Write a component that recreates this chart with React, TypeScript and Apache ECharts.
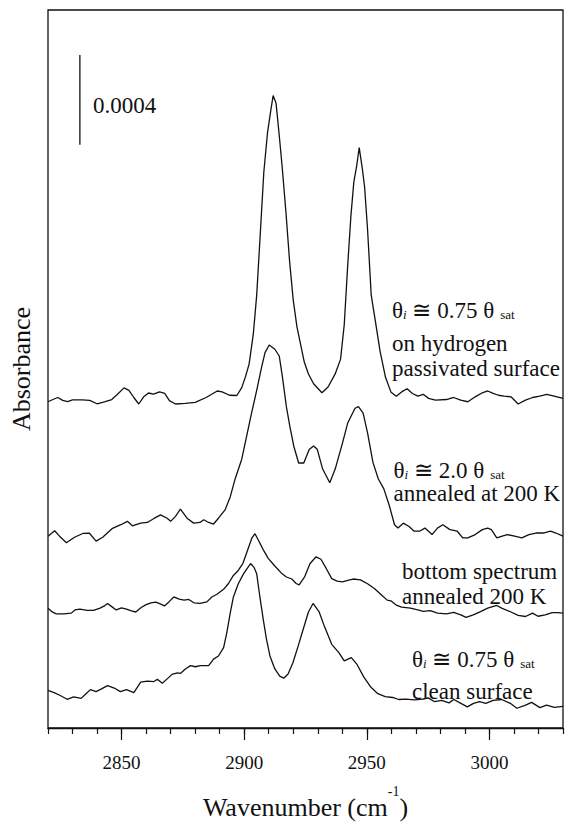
import React, { useEffect, useRef } from "react";
import * as echarts from "echarts";

// ---- Data (absorbance in units of 1e-4, stacked offsets included) ----
// Spectrum 1: θi ≅ 0.75 θsat on hydrogen passivated surface
const wn1 = [2820, 2822, 2824, 2826, 2828, 2830, 2834, 2837, 2840, 2843, 2846, 2848, 2851, 2853, 2855, 2857, 2859, 2861, 2863, 2865.5, 2867.6, 2869.5, 2872, 2876, 2880, 2884.5, 2889, 2891, 2894, 2897, 2899, 2900.5, 2902, 2903.7, 2905.1, 2906.5, 2908, 2909.5, 2910.8, 2911.8, 2913, 2914.2, 2915.5, 2917, 2918.5, 2920, 2921.5, 2923, 2924.5, 2926.2, 2928.3, 2931.7, 2934.2, 2937.1, 2939.3, 2940.8, 2942.2, 2943.5, 2944.7, 2945.9, 2946.9, 2948.1, 2949.1, 2950.3, 2951.8, 2953.2, 2955.4, 2957.6, 2959.8, 2962, 2964.2, 2966.4, 2968.6, 2970.8, 2973, 2975.2, 2978, 2982.5, 2985.4, 2988.3, 2991.2, 2994.2, 2997.1, 2999.3, 3001.5, 3003.7, 3006, 3008.8, 3011.7, 3014.7, 3017.6, 3020.5, 3023.4, 3026.4, 3030];
const abs1 = [14.54, 14.64, 14.73, 14.6, 14.55, 14.62, 14.62, 14.6, 14.45, 14.53, 14.64, 14.84, 15.16, 15.05, 14.73, 14.44, 14.76, 14.93, 14.88, 14.98, 14.91, 14.59, 14.44, 14.47, 14.51, 14.73, 15.02, 14.98, 14.83, 14.82, 15.17, 15.65, 16.22, 17.54, 19.29, 21.92, 24.77, 26.52, 27.49, 28.19, 27.84, 26.52, 24.99, 23.02, 20.82, 19.07, 17.89, 17.1, 16.31, 15.78, 15.34, 14.94, 15.2, 15.78, 16.44, 17.97, 20.6, 22.8, 24.33, 25.08, 25.87, 24.99, 24.11, 22.23, 19.29, 18.33, 16.8, 15.64, 14.98, 14.79, 14.98, 15.12, 14.91, 14.79, 14.87, 14.69, 14.61, 14.64, 14.73, 14.61, 14.54, 14.76, 14.94, 15.02, 14.91, 14.83, 14.79, 14.76, 14.44, 14.61, 14.73, 14.79, 14.87, 14.79, 14.69];

// Spectrum 2: θi ≅ 2.0 θsat annealed at 200 K
const wn2 = [2820, 2822.7, 2824.7, 2827.5, 2830.8, 2834.2, 2836.9, 2839.6, 2842.3, 2846.3, 2849.7, 2852.4, 2854.4, 2857.8, 2860.5, 2863.2, 2865.9, 2868.6, 2870, 2872, 2874, 2876.7, 2879.4, 2882, 2883.5, 2885.5, 2887.5, 2889.5, 2892.2, 2894.3, 2896.3, 2899, 2901, 2903, 2905.1, 2907.1, 2908.5, 2910.2, 2912.5, 2914.3, 2915.6, 2917.2, 2918.6, 2920.2, 2922.2, 2924.3, 2926.5, 2928.3, 2929.8, 2932, 2934.9, 2937.1, 2940.1, 2942.2, 2945.2, 2946.6, 2948.5, 2950.3, 2952.5, 2954.7, 2956.9, 2959.1, 2961.3, 2962.7, 2964.9, 2967.1, 2969.3, 2971.5, 2973.7, 2976.6, 2978.8, 2981, 2983.9, 2986.9, 2989.1, 2991.2, 2994.2, 2997.1, 2999.3, 3000.8, 3003, 3005.2, 3007.3, 3010.3, 3013.2, 3016.1, 3019, 3022, 3024.9, 3027.1, 3030];
const abs2 = [8.55, 8.79, 8.55, 8.26, 8.5, 8.67, 8.68, 8.33, 8.5, 8.9, 9.06, 9.21, 9.01, 9.13, 9.16, 9.34, 9.5, 9.35, 9.21, 9.43, 9.76, 9.35, 9.13, 9.16, 9.28, 9.16, 9.09, 9.35, 9.72, 10.3, 11.1, 11.98, 13.01, 14.03, 15.05, 16.08, 16.73, 17.07, 16.88, 16.58, 15.64, 14.32, 13.45, 12.57, 11.81, 11.81, 12.41, 12.57, 12.42, 11.54, 10.93, 11.54, 12.71, 13.59, 14.25, 14.32, 14.03, 13.15, 11.84, 11.1, 10.67, 9.94, 9.06, 8.91, 9.13, 8.99, 8.77, 8.77, 8.91, 8.62, 8.91, 9.06, 8.84, 8.77, 8.47, 8.47, 8.62, 8.84, 8.91, 8.84, 8.47, 8.55, 8.62, 8.55, 8.47, 8.62, 8.69, 8.69, 8.77, 8.69, 8.55];

// Spectrum 3: bottom spectrum annealed 200 K
const wn3 = [2820, 2821.5, 2823.4, 2826.5, 2829.5, 2831, 2833, 2836, 2838.5, 2841, 2843, 2844.3, 2846, 2847.8, 2850, 2852, 2854, 2855.8, 2858, 2860, 2862, 2864, 2866, 2867.5, 2869.3, 2871.3, 2873.5, 2875.5, 2877.4, 2879.5, 2882, 2884.8, 2886.8, 2888.9, 2891.6, 2893.6, 2895.6, 2897.5, 2899.5, 2901.7, 2903.1, 2904.4, 2905.8, 2907.8, 2909.8, 2912.4, 2915.2, 2917.2, 2919.4, 2921.2, 2922.4, 2924.7, 2926.8, 2929.3, 2931.3, 2933.5, 2935.7, 2937.9, 2940.1, 2942.2, 2944.4, 2947.4, 2950.3, 2953.2, 2956.1, 2958.3, 2959.8, 2962, 2964.2, 2967.8, 2970.8, 2973, 2975.9, 2978.8, 2982.5, 2985.4, 2988.3, 2990.5, 2993.4, 2996.4, 2999.3, 3003, 3005.2, 3008.8, 3011.7, 3014.7, 3017.6, 3019.8, 3022.7, 3025.6, 3027.8, 3030];
const abs3 = [5.34, 5.19, 5.09, 5.09, 5.12, 5.26, 5.3, 5.24, 5.24, 5.33, 5.44, 5.55, 5.41, 5.26, 5.35, 5.3, 5.22, 5.17, 5.37, 5.5, 5.58, 5.61, 5.52, 5.44, 5.62, 5.84, 5.74, 5.7, 5.73, 5.58, 5.55, 5.62, 5.84, 5.96, 6.18, 6.44, 6.8, 7.01, 7.34, 8.02, 8.46, 8.66, 8.37, 7.94, 7.56, 7.23, 6.9, 6.73, 6.64, 6.44, 6.38, 6.75, 7.32, 7.63, 7.52, 7.1, 6.66, 6.55, 6.51, 6.58, 6.64, 6.6, 6.43, 6.21, 5.92, 5.7, 5.67, 5.48, 5.39, 5.34, 5.26, 5.2, 5.23, 5.12, 5.09, 5.15, 5.04, 4.93, 5.04, 5.19, 5.34, 5.46, 5.33, 5.17, 5.02, 4.97, 5.12, 4.98, 5.04, 5.14, 5.14, 5.12];

// Spectrum 4: θi ≅ 0.75 θsat clean surface
const wn4 = [2820, 2822.5, 2825, 2827.8, 2830.5, 2833.5, 2835.5, 2837.3, 2839.6, 2841.6, 2844.3, 2847, 2849.5, 2852, 2855, 2857.8, 2860.5, 2863.2, 2864.6, 2866.6, 2868.6, 2870.6, 2872.7, 2874, 2876, 2878.1, 2880.1, 2882.1, 2885.5, 2887.5, 2889.5, 2891.6, 2892.9, 2894.3, 2895.6, 2897.6, 2899.7, 2901.3, 2902.6, 2904, 2905.1, 2906.4, 2907.8, 2909.1, 2910.5, 2912.5, 2914.5, 2916.1, 2917.9, 2919.9, 2922, 2924, 2926.2, 2928.1, 2930.5, 2932.7, 2935.7, 2938.6, 2940.8, 2943.7, 2945.9, 2948.8, 2951.5, 2954.5, 2957.5, 2960.5, 2963, 2966, 2969.5, 2973, 2975, 2977.5, 2980.5, 2983.5, 2985.5, 2988, 2991, 2993.5, 2996, 2998.5, 3001.5, 3005, 3008.5, 3011.2, 3014.5, 3017.2, 3020.6, 3023.3, 3026.5, 3030];
const abs4 = [1.68, 1.58, 1.45, 1.28, 1.39, 1.32, 1.53, 1.71, 1.62, 1.73, 1.89, 1.78, 1.62, 1.71, 1.58, 2.04, 2.09, 2.07, 2.17, 1.99, 2.19, 2.39, 2.46, 2.43, 2.63, 2.78, 2.73, 2.78, 2.78, 3.07, 3.21, 3.58, 4.24, 5.12, 5.84, 6.43, 6.87, 7.13, 7.33, 7.16, 6.87, 5.84, 4.82, 3.95, 3.21, 2.63, 2.31, 2.22, 2.41, 2.92, 3.65, 4.38, 5.17, 5.55, 5.19, 4.53, 3.73, 3.36, 2.99, 3.14, 2.85, 2.27, 1.84, 1.53, 1.4, 1.36, 1.27, 1.29, 1.25, 1.29, 1.34, 1.18, 1.23, 1.12, 1.27, 1.12, 0.94, 1.1, 1.18, 1.1, 1.23, 1.27, 1.1, 0.88, 1.01, 1.14, 0.91, 1.02, 0.92, 0.96];

// Scale bar (0.0004 absorbance = 4 units)
const scaleBarWn = [2833, 2833];
const scaleBarAbs = [26, 30];
const scaleBarLabel = "0.0004";

// Axis
const xMin = 2820;
const xMax = 3030;
const xTickLabels = [2850, 2900, 2950, 3000];
const yMin = 0;
const yMax = 32;

const SERIF = "Liberation Serif";
const INK = "#111";

function pairs(x: number[], y: number[]) {
  return x.map((v, i) => [v, y[i]]);
}

export default function App() {
  const ref = useRef<HTMLDivElement>(null);

  useEffect(() => {
    document.body.style.margin = "0";
    const chart = echarts.init(ref.current!, null, { renderer: "svg" });

    const lineSeries = (name: string, x: number[], y: number[]) => ({
      type: "line",
      name,
      data: pairs(x, y),
      showSymbol: false,
      symbol: "none",
      silent: true,
      xAxisIndex: 0,
      yAxisIndex: 0,
      lineStyle: { color: INK, width: 1.3 },
    });

    const thetaRich = {
      g: { fontSize: 23, lineHeight: 22, fontFamily: SERIF, color: INK, fill: INK },
      i: { fontSize: 13, lineHeight: 8, fontStyle: "italic", verticalAlign: "bottom", fontFamily: SERIF, color: INK, fill: INK },
      s: { fontSize: 13, lineHeight: 8, verticalAlign: "bottom", padding: [0, 0, 0, 6], fontFamily: SERIF, color: INK, fill: INK },
    };

    const plain = (text: string, x: number, y: number) => ({
      type: "text",
      x,
      y,
      silent: true,
      style: {
        text,
        fill: INK,
        fontFamily: SERIF,
        fontSize: 23,
        lineHeight: 20,
        verticalAlign: "middle",
        align: "left",
      },
    });
    const theta = (text: string, x: number, y: number) => ({
      type: "text",
      x,
      y,
      silent: true,
      style: {
        text,
        fill: INK,
        fontFamily: SERIF,
        fontSize: 23,
        verticalAlign: "middle",
        align: "left",
        rich: thetaRich,
      },
    });

    const option: any = {
      animation: false,
      backgroundColor: "#fff",
      textStyle: { fontFamily: SERIF },
      grid: {
        left: 46,
        right: 1,
        top: 10,
        bottom: 85,
        show: true,
        borderColor: INK,
        borderWidth: 1.3,
        backgroundColor: "transparent",
      },
      xAxis: [
        {
          type: "value",
          min: xMin,
          max: xMax,
          interval: 10,
          position: "bottom",
          axisLine: { show: true, lineStyle: { color: INK, width: 1.3 } },
          axisTick: { show: true, length: 6, lineStyle: { color: INK, width: 1.2 } },
          axisLabel: {
            show: true,
            interval: 0,
            margin: 25,
            fontSize: 19,
            fontFamily: SERIF,
            color: INK,
            formatter: (v: number) => (xTickLabels.includes(v) ? String(v) : ""),
          },
          splitLine: { show: false },
          name: "{a|Wavenumber (cm}{b|-1}{a|)}",
          nameLocation: "middle",
          nameGap: 56,
          nameTextStyle: {
            fontFamily: SERIF,
            rich: {
              a: { fontSize: 26, lineHeight: 46, fontFamily: SERIF, color: INK },
              b: { fontSize: 14, lineHeight: 14, verticalAlign: "top", fontFamily: SERIF, color: INK },
            },
          },
        },
        {
          type: "value",
          min: xMin,
          max: xMax,
          position: "bottom",
          axisLine: { show: false },
          axisTick: { show: true, length: 12, customValues: xTickLabels, lineStyle: { color: INK, width: 1.2 } },
          axisLabel: { show: false },
          splitLine: { show: false },
        },
      ],
      yAxis: {
        type: "value",
        min: yMin,
        max: yMax,
        axisLine: { show: false },
        axisTick: { show: false },
        axisLabel: { show: false },
        splitLine: { show: false },
        name: "Absorbance",
        nameLocation: "middle",
        nameRotate: 90,
        nameGap: 14,
        nameTextStyle: { fontSize: 26, fontFamily: SERIF, color: INK },
      },
      series: [
        lineSeries("s1", wn1, abs1),
        lineSeries("s2", wn2, abs2),
        lineSeries("s3", wn3, abs3),
        lineSeries("s4", wn4, abs4),
        lineSeries("scale", scaleBarWn, scaleBarAbs),
      ],
      graphic: [
        plain(scaleBarLabel, 93, 105.5),
        theta("{g|θ}{i|i}{g| ≅ 0.75 θ}{s|sat}", 392, 310),
        plain("on hydrogen", 392, 343),
        plain("passivated surface", 392, 368),
        theta("{g|θ}{i|i}{g| ≅ 2.0 θ}{s|sat}", 393.5, 470),
        plain("annealed at 200 K", 393.5, 493),
        plain("bottom spectrum", 402, 571.5),
        plain("annealed 200 K", 402, 596),
        theta("{g|θ}{i|i}{g| ≅ 0.75 θ}{s|sat}", 412, 659),
        plain("clean surface", 412, 691),
      ],
    };

    chart.setOption(option);
    return () => chart.dispose();
  }, []);

  return <div ref={ref} style={{ width: 566, height: 825 }} />;
}
